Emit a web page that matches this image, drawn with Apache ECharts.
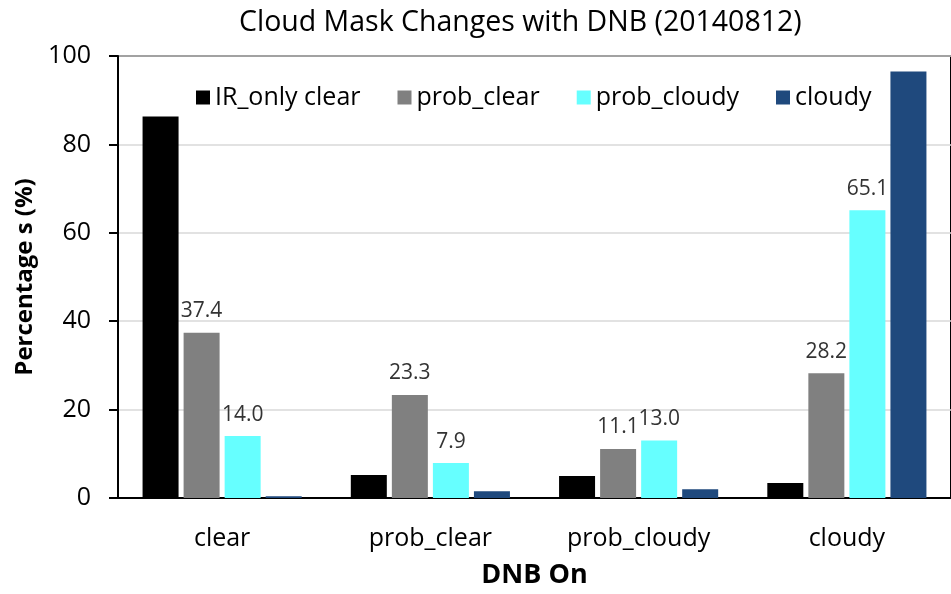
<!DOCTYPE html>
<html>
<head>
<meta charset="utf-8">
<script src="https://cdn.jsdelivr.net/npm/echarts@6/dist/echarts.min.js"></script>
<style>
  html, body { margin: 0; padding: 0; background: #fff; }
  #main { width: 951px; height: 594px; }
</style>
</head>
<body>
<div id="main"></div>
<script>
// 数据
let categories = ['clear', 'prob_clear', 'prob_cloudy', 'cloudy'];
let seriesNames = ['IR_only clear', 'prob_clear', 'prob_cloudy', 'cloudy'];
let irOnlyClear = [86.3, 5.2, 5.0, 3.4];
let probClear = [37.4, 23.3, 11.1, 28.2];
let probCloudy = [14.0, 7.9, 13.0, 65.1];
let cloudy = [0.4, 1.5, 2.0, 96.5];
let yTicks = [0, 20, 40, 60, 80, 100];

let colors = ['#000000', '#808080', '#66ffff', '#1f497d'];
let fontFamily = '"Open Sans", "Noto Sans", sans-serif';

let myChart = echarts.init(document.getElementById('main'));

function barSeries(name, data, color, showLabel) {
    return {
        name: name,
        type: 'bar',
        data: data,
        barWidth: 36,
        barGap: '14%',
        itemStyle: { color: color },
        label: {
            show: showLabel,
            position: 'top',
            distance: 11,
            color: '#333',
            fontFamily: fontFamily,
            fontSize: 21,
            formatter: function (p) { return p.value.toFixed(1); }
        }
    };
}

let option = {
    animation: false,
    backgroundColor: '#fff',
    title: {
        text: 'Cloud Mask Changes with DNB (20140812)',
        left: 234,
        top: 3,
        textStyle: { fontFamily: fontFamily, fontSize: 28.5, fontWeight: 'normal', color: '#000' }
    },
    legend: {
        left: 191,
        top: 80,
        itemWidth: 14,
        itemHeight: 14,
        itemGap: 37,
        icon: 'rect',
        data: seriesNames,
        textStyle: { fontFamily: fontFamily, fontSize: 25, color: '#000' }
    },
    grid: {
        left: 118,
        top: 56,
        width: 838,
        bottom: 93,
        show: true,
        borderColor: '#000',
        borderWidth: 2,
        containLabel: false
    },
    xAxis: {
        type: 'category',
        data: categories,
        name: 'DNB On',
        nameLocation: 'middle',
        nameGap: 64,
        nameTextStyle: { fontFamily: fontFamily, fontSize: 27, fontWeight: 'bold', color: '#000' },
        axisTick: { show: false },
        axisLine: { lineStyle: { color: '#000', width: 2 } },
        axisLabel: { margin: 28, fontFamily: fontFamily, fontSize: 25, color: '#000' }
    },
    yAxis: {
        type: 'value',
        min: 0,
        max: 100,
        interval: 20,
        name: 'Percentage s (%)',
        nameLocation: 'middle',
        nameGap: 74,
        nameTextStyle: { fontFamily: fontFamily, fontSize: 24, fontWeight: 'bold', color: '#000' },
        axisLine: { show: true, lineStyle: { color: '#000', width: 2 } },
        axisTick: { show: true, inside: false, length: 9, lineStyle: { color: '#000', width: 2 } },
        axisLabel: {
            margin: 27, fontFamily: fontFamily, fontSize: 25, color: '#000',
            formatter: function (v) { return yTicks.indexOf(v) >= 0 ? String(v) : ''; }
        },
        splitLine: { show: true, lineStyle: { color: '#d9d9d9', width: 1.5 } }
    },
    series: [
        barSeries(seriesNames[0], irOnlyClear, colors[0], false),
        barSeries(seriesNames[1], probClear, colors[1], true),
        barSeries(seriesNames[2], probCloudy, colors[2], true),
        barSeries(seriesNames[3], cloudy, colors[3], false)
    ]
};

myChart.setOption(option);
</script>
</body>
</html>
